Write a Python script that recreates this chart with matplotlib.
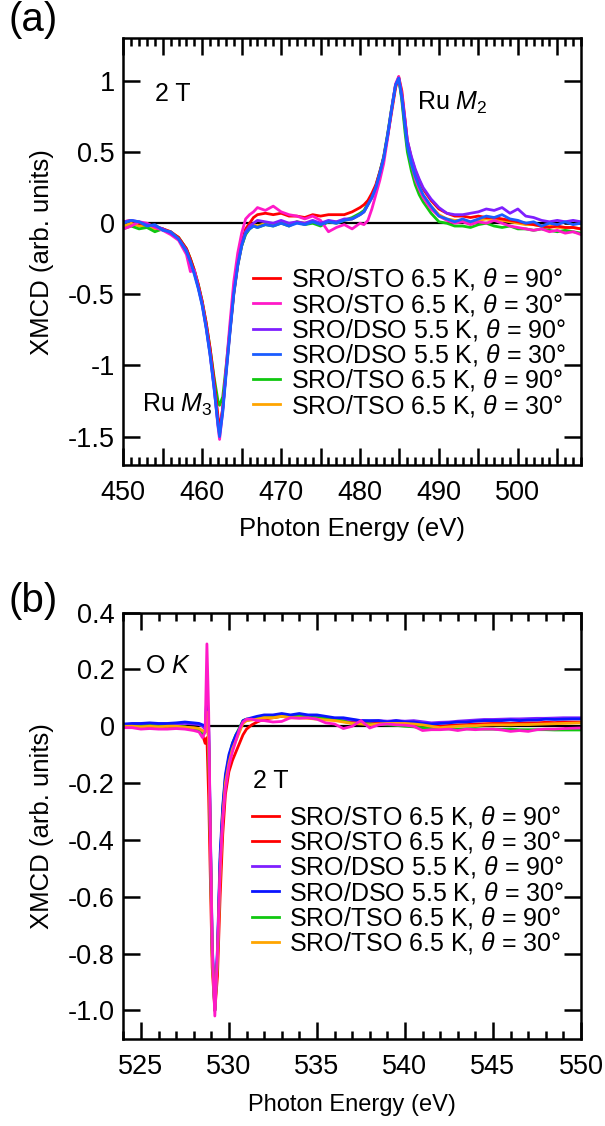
import numpy as np
import matplotlib
matplotlib.use('Agg')
import matplotlib.pyplot as plt
from matplotlib.ticker import MultipleLocator, NullLocator, FuncFormatter
from matplotlib.lines import Line2D

plt.rcParams['font.family'] = ['Liberation Sans', 'DejaVu Sans']
plt.rcParams['mathtext.fontset'] = 'custom'
plt.rcParams['mathtext.rm'] = 'Liberation Sans'
plt.rcParams['mathtext.it'] = 'Liberation Sans:italic'
plt.rcParams['axes.unicode_minus'] = False

# ---- data ----
labels = ['SRO/STO 6.5 K, $\\theta$ = 90°', 'SRO/STO 6.5 K, $\\theta$ = 30°',
          'SRO/DSO 5.5 K, $\\theta$ = 90°', 'SRO/DSO 5.5 K, $\\theta$ = 30°',
          'SRO/TSO 6.5 K, $\\theta$ = 90°', 'SRO/TSO 6.5 K, $\\theta$ = 30°']

# (a) Ru M edge
E_a = [450, 451, 452, 453, 454, 455, 456, 457, 458, 458.5,
       459, 459.5, 460, 460.5, 461, 461.5, 462, 462.2, 462.6, 463,
       463.5, 464, 464.5, 465, 465.5, 466, 466.5, 467, 468, 469,
       470, 471, 472, 473, 474, 475, 476, 477, 478, 479,
       480, 480.5, 481, 481.5, 482, 482.5, 483, 483.5, 484, 484.5,
       484.9, 485.3, 485.7, 486, 486.5, 487, 487.5, 488, 489, 490,
       491, 492, 493, 494, 495, 496, 497, 498, 499, 500,
       501, 502, 503, 504, 505, 506, 507, 508]

sto90_a = [0.01, 0.02, 0.00, -0.01, -0.02, -0.04, -0.06, -0.10, -0.18, -0.25,
           -0.33, -0.43, -0.55, -0.70, -0.88, -1.10, -1.36, -1.45, -1.30, -1.05,
           -0.76, -0.49, -0.29, -0.14, -0.04, 0.00, 0.04, 0.06, 0.07, 0.06,
           0.07, 0.05, 0.05, 0.04, 0.06, 0.05, 0.06, 0.06, 0.06, 0.08,
           0.11, 0.13, 0.16, 0.21, 0.27, 0.36, 0.46, 0.61, 0.78, 0.95,
           1.03, 0.93, 0.73, 0.58, 0.46, 0.37, 0.30, 0.24, 0.16, 0.10,
           0.07, 0.05, 0.05, 0.04, 0.05, 0.04, 0.04, 0.03, 0.02, 0.01,
           0.00, -0.01, -0.02, -0.03, -0.02, -0.03, -0.03, -0.04]
sto30_a = [-0.04, -0.02, 0.01, 0.00, -0.03, -0.05, -0.08, -0.12, -0.22, -0.34,
           -0.33, -0.45, -0.57, -0.73, -0.92, -1.15, -1.43, -1.52, -1.32, -1.04,
           -0.71, -0.41, -0.21, -0.07, 0.03, 0.06, 0.08, 0.11, 0.09, 0.12,
           0.08, 0.06, 0.05, 0.03, 0.05, 0.02, -0.06, -0.03, -0.01, -0.04,
           0.00, -0.01, 0.02, 0.10, 0.20, 0.30, 0.42, 0.60, 0.80, 0.98,
           1.03, 0.90, 0.72, 0.56, 0.42, 0.31, 0.24, 0.18, 0.10, 0.05,
           0.02, 0.00, 0.01, -0.01, 0.01, 0.00, 0.02, 0.00, -0.02, -0.03,
           -0.04, -0.05, -0.04, -0.06, -0.05, -0.07, -0.06, -0.08]
dso90_a = [0.01, 0.02, 0.01, -0.01, -0.02, -0.04, -0.07, -0.11, -0.19, -0.27,
           -0.35, -0.45, -0.57, -0.73, -0.92, -1.15, -1.41, -1.48, -1.31, -1.06,
           -0.77, -0.49, -0.29, -0.15, -0.06, -0.02, 0.00, 0.02, 0.01, 0.00,
           0.02, 0.00, 0.01, 0.00, 0.02, 0.00, 0.02, 0.01, 0.03, 0.03,
           0.06, 0.08, 0.13, 0.18, 0.25, 0.35, 0.46, 0.62, 0.80, 0.97,
           1.02, 0.90, 0.72, 0.58, 0.47, 0.38, 0.31, 0.25, 0.17, 0.11,
           0.07, 0.06, 0.06, 0.07, 0.08, 0.10, 0.09, 0.11, 0.07, 0.10,
           0.05, 0.04, 0.02, 0.01, 0.02, 0.01, 0.02, 0.01]
dso30_a = [0.00, 0.02, 0.01, -0.02, -0.01, -0.05, -0.06, -0.11, -0.20, -0.27,
           -0.36, -0.46, -0.58, -0.74, -0.93, -1.16, -1.42, -1.50, -1.33, -1.08,
           -0.78, -0.50, -0.30, -0.16, -0.07, -0.04, -0.02, -0.03, -0.01, -0.02,
           0.00, -0.02, 0.00, -0.01, 0.01, -0.01, 0.01, 0.00, 0.02, 0.03,
           0.06, 0.08, 0.13, 0.18, 0.25, 0.35, 0.46, 0.62, 0.80, 0.97,
           1.02, 0.88, 0.68, 0.54, 0.42, 0.33, 0.26, 0.20, 0.12, 0.05,
           0.03, 0.01, 0.03, 0.01, 0.03, 0.05, 0.04, 0.06, 0.03, 0.02,
           0.00, 0.01, -0.02, 0.00, -0.01, 0.01, -0.01, 0.00]
tso90_a = [-0.04, -0.02, -0.04, -0.03, -0.06, -0.04, -0.07, -0.10, -0.18, -0.25,
           -0.33, -0.43, -0.55, -0.70, -0.88, -1.08, -1.25, -1.28, -1.22, -1.02,
           -0.75, -0.48, -0.29, -0.16, -0.08, -0.04, -0.02, -0.03, -0.01, -0.02,
           0.00, -0.02, 0.01, -0.01, 0.00, -0.02, 0.01, 0.00, 0.02, 0.04,
           0.07, 0.09, 0.14, 0.19, 0.26, 0.36, 0.47, 0.63, 0.81, 0.97,
           1.02, 0.86, 0.64, 0.50, 0.37, 0.27, 0.20, 0.15, 0.07, 0.01,
           0.00, -0.02, -0.02, -0.03, -0.01, 0.00, -0.02, -0.03, -0.02, -0.04,
           -0.04, -0.05, -0.04, -0.05, -0.06, -0.05, -0.06, -0.07]
tso30_a = [-0.02, 0.00, -0.02, -0.02, -0.04, -0.04, -0.06, -0.10, -0.18, -0.25,
           -0.34, -0.44, -0.56, -0.72, -0.90, -1.12, -1.38, -1.46, -1.30, -1.06,
           -0.77, -0.50, -0.30, -0.16, -0.07, -0.03, -0.01, -0.02, 0.00, -0.01,
           0.01, -0.01, 0.01, 0.00, 0.01, -0.01, 0.01, 0.01, 0.02, 0.03,
           0.06, 0.08, 0.13, 0.18, 0.25, 0.35, 0.46, 0.62, 0.80, 0.97,
           1.02, 0.88, 0.68, 0.53, 0.41, 0.32, 0.25, 0.19, 0.12, 0.06,
           0.03, 0.02, 0.02, 0.01, 0.02, 0.03, 0.02, 0.02, 0.01, 0.00,
           -0.01, -0.01, -0.02, -0.02, -0.03, -0.03, -0.03, -0.04]

# (b) O K edge
E_b = [524, 524.5, 525, 525.5, 526, 526.5, 527, 527.5, 528, 528.3,
       528.5, 528.65, 528.75, 528.85, 528.95, 529.05, 529.2, 529.35, 529.5, 529.65,
       529.8, 530.0, 530.2, 530.4, 530.6, 530.8, 531.0, 531.3, 531.6, 532,
       532.5, 533, 533.5, 534, 534.5, 535, 535.5, 536, 536.5, 537,
       537.5, 538, 538.5, 539, 539.5, 540, 540.5, 541, 541.5, 542,
       542.5, 543, 543.5, 544, 544.5, 545, 545.5, 546, 546.5, 547,
       547.5, 548, 548.5, 549, 549.5, 550]

sto90_b = [0.00, 0.00, -0.005, 0.00, -0.005, 0.00, -0.005, -0.005, -0.01, -0.015,
           -0.03, -0.06, -0.04, -0.25, -0.55, -0.85, -1.00, -0.88, -0.60, -0.38,
           -0.24, -0.16, -0.12, -0.09, -0.06, -0.03, -0.01, 0.005, 0.015, 0.025,
           0.03, 0.035, 0.03, 0.035, 0.03, 0.03, 0.025, 0.025, 0.02, 0.015,
           0.012, 0.01, 0.012, 0.01, 0.008, 0.01, 0.008, 0.008, 0.004, 0.00,
           0.003, 0.005, 0.006, 0.008, 0.009, 0.01, 0.01, 0.01, 0.011, 0.012,
           0.012, 0.014, 0.013, 0.015, 0.015, 0.015]
sto30_b = [-0.005, -0.005, -0.01, -0.008, -0.01, -0.01, -0.008, -0.01, -0.015, -0.02,
           -0.04, -0.02, 0.29, 0.05, -0.40, -0.78, -1.02, -0.80, -0.50, -0.33,
           -0.22, -0.14, -0.09, -0.05, -0.01, 0.015, 0.025, 0.025, 0.02, 0.02,
           0.015, 0.017, 0.03, 0.028, 0.03, 0.025, 0.012, 0.008, -0.008, 0.00,
           0.02, -0.006, 0.005, 0.008, 0.005, 0.004, 0.00, -0.015, -0.012, -0.012,
           -0.01, -0.015, -0.01, -0.012, -0.01, -0.01, -0.013, -0.018, -0.015, -0.018,
           -0.012, -0.01, -0.01, -0.008, -0.007, -0.006]
dso90_b = [0.005, 0.006, 0.005, 0.008, 0.006, 0.007, 0.008, 0.01, 0.008, 0.006,
           0.00, -0.01, 0.07, -0.02, -0.40, -0.78, -1.00, -0.80, -0.48, -0.30,
           -0.19, -0.12, -0.07, -0.04, -0.015, 0.015, 0.02, 0.025, 0.03, 0.035,
           0.035, 0.04, 0.038, 0.04, 0.035, 0.035, 0.03, 0.028, 0.025, 0.022,
           0.02, 0.018, 0.02, 0.018, 0.02, 0.018, 0.02, 0.016, 0.012, 0.014,
           0.015, 0.018, 0.02, 0.022, 0.024, 0.024, 0.025, 0.026, 0.026, 0.027,
           0.028, 0.028, 0.029, 0.03, 0.03, 0.03]
dso30_b = [0.008, 0.01, 0.01, 0.012, 0.01, 0.01, 0.012, 0.015, 0.012, 0.01,
           0.005, 0.00, 0.105, 0.00, -0.38, -0.76, -1.00, -0.78, -0.45, -0.28,
           -0.17, -0.10, -0.06, -0.03, -0.01, 0.02, 0.025, 0.03, 0.035, 0.04,
           0.04, 0.045, 0.04, 0.045, 0.04, 0.04, 0.035, 0.03, 0.03, 0.025,
           0.02, 0.02, 0.02, 0.015, 0.02, 0.015, 0.015, 0.01, 0.008, 0.01,
           0.012, 0.015, 0.015, 0.018, 0.02, 0.02, 0.02, 0.022, 0.02, 0.022,
           0.022, 0.025, 0.024, 0.025, 0.026, 0.026]
tso90_b = [0.00, 0.002, 0.00, 0.003, 0.00, 0.002, 0.00, -0.002, -0.01, -0.015,
           -0.03, -0.02, 0.04, -0.05, -0.42, -0.80, -1.00, -0.82, -0.48, -0.29,
           -0.18, -0.11, -0.06, -0.03, -0.005, 0.02, 0.025, 0.025, 0.03, 0.03,
           0.032, 0.035, 0.033, 0.035, 0.032, 0.03, 0.028, 0.025, 0.018, 0.01,
           0.01, 0.008, 0.006, 0.005, 0.003, 0.00, -0.002, -0.005, -0.006, -0.008,
           -0.009, -0.01, -0.009, -0.008, -0.01, -0.01, -0.011, -0.01, -0.012, -0.012,
           -0.012, -0.012, -0.013, -0.013, -0.013, -0.013]
tso30_b = [0.00, 0.00, -0.002, 0.00, -0.002, 0.00, 0.00, -0.003, -0.005, -0.008,
           -0.015, -0.02, 0.05, -0.06, -0.42, -0.80, -1.00, -0.82, -0.52, -0.32,
           -0.20, -0.13, -0.08, -0.05, -0.02, 0.01, 0.02, 0.022, 0.025, 0.03,
           0.03, 0.035, 0.03, 0.03, 0.028, 0.025, 0.022, 0.02, 0.015, 0.01,
           0.008, 0.005, 0.008, 0.01, 0.01, 0.01, 0.008, 0.005, 0.00, -0.005,
           -0.002, 0.00, 0.002, 0.002, 0.004, 0.005, 0.005, 0.005, 0.006, 0.006,
           0.007, 0.008, 0.009, 0.01, 0.011, 0.012]

yticks_a = [-1.5, -1, -0.5, 0, 0.5, 1]
yticklabels_a = ['-1.5', '-1', '-0.5', '0', '0.5', '1']
yticks_b = [-1.0, -0.8, -0.6, -0.4, -0.2, 0, 0.2, 0.4]
yticklabels_b = ['-1.0', '-0.8', '-0.6', '-0.4', '-0.2', '0', '0.2', '0.4']

colors_a = ['#ff0000', '#ff19c8', '#7f1fff', '#1a5cff', '#10c810', '#ffa500']
colors_b = ['#ff0000', '#ff19c8', '#7f1fff', '#0a14ff', '#10c810', '#ffa500']
handle_colors_b = ['#ff0000', '#ff0000', '#7f1fff', '#0a14ff', '#10c810', '#ffa500']


def style_axes(ax):
    for sp in ax.spines.values():
        sp.set_linewidth(1.8)
    ax.tick_params(which='both', direction='in', top=True, right=True, width=1.8)
    ax.tick_params(which='major', length=12, labelsize=19.5)
    ax.tick_params(axis='x', which='major', pad=11)
    ax.tick_params(axis='y', which='major', pad=6)
    ax.tick_params(which='minor', length=6)
    ax.yaxis.set_minor_locator(NullLocator())


fig = plt.figure(figsize=(6.05, 11.26), dpi=100)

# ---------------- (a) ----------------
ax1 = fig.add_axes([0.2038, 0.587, 0.7565, 0.379])
series_a = [sto90_a, sto30_a, dso90_a, dso30_a, tso90_a, tso30_a]
draw_order_a = [5, 4, 0, 1, 2, 3]
ax1.axhline(0, color='k', lw=1.6, zorder=1)
lines_a = {}
for i in draw_order_a:
    ln, = ax1.plot(E_a, series_a[i], color=colors_a[i], lw=2.0, label=labels[i], zorder=2)
    lines_a[i] = ln
ax1.set_xlim(450, 508)
ax1.set_ylim(-1.7, 1.3)
style_axes(ax1)
ax1.xaxis.set_major_locator(MultipleLocator(5))
ax1.xaxis.set_minor_locator(MultipleLocator(1))
ax1.xaxis.set_major_formatter(FuncFormatter(lambda v, p: '%d' % v if int(round(v)) % 10 == 0 else ''))
ax1.set_yticks(yticks_a)
ax1.set_yticklabels(yticklabels_a)
ax1.set_xlabel('Photon Energy (eV)', fontsize=18.5, labelpad=8)
ax1.set_ylabel('XMCD (arb. units)', fontsize=18.5, labelpad=10)
ax1.legend([lines_a[i] for i in range(6)], labels, loc='center left',
           bbox_to_anchor=(0.2834, 0.287), frameon=False, fontsize=18,
           handlelength=1.08, handletextpad=0.42, labelspacing=-0.03,
           borderpad=0, borderaxespad=0)
ax1.text(0.069, 0.853, '2 T', transform=ax1.transAxes, fontsize=18, va='baseline')
ax1.text(0.642, 0.832, 'Ru $M_2$', transform=ax1.transAxes, fontsize=18, va='baseline')
ax1.text(0.040, 0.125, 'Ru $M_3$', transform=ax1.transAxes, fontsize=18, va='baseline')

# ---------------- (b) ----------------
ax2 = fig.add_axes([0.2038, 0.0775, 0.7565, 0.3784])
series_b = [sto90_b, sto30_b, dso90_b, dso30_b, tso90_b, tso30_b]
draw_order_b = [0, 2, 4, 3, 5, 1]
ax2.axhline(0, color='k', lw=1.6, zorder=1)
for i in draw_order_b:
    ax2.plot(E_b, series_b[i], color=colors_b[i], lw=2.0, zorder=2)
ax2.set_xlim(524, 550)
ax2.set_ylim(-1.1, 0.4)
style_axes(ax2)
ax2.xaxis.set_major_locator(MultipleLocator(5))
ax2.xaxis.set_minor_locator(MultipleLocator(1))
ax2.set_yticks(yticks_b)
ax2.set_yticklabels(yticklabels_b)
ax2.set_xlabel('Photon Energy (eV)', fontsize=17, labelpad=10)
ax2.set_ylabel('XMCD (arb. units)', fontsize=18.5, labelpad=10)
handles_b = [Line2D([], [], color=c, lw=2.0) for c in handle_colors_b]
ax2.legend(handles_b, labels, loc='center left',
           bbox_to_anchor=(0.2805, 0.3725), frameon=False, fontsize=18,
           handlelength=1.08, handletextpad=0.42, labelspacing=-0.03,
           borderpad=0, borderaxespad=0)
ax2.text(0.0474, 0.859, 'O $K$', transform=ax2.transAxes, fontsize=18, va='baseline')
ax2.text(0.2827, 0.5885, '2 T', transform=ax2.transAxes, fontsize=18, va='baseline')

fig.text(0.014, 0.999, '(a)', fontsize=29, va='top', ha='left')
fig.text(0.014, 0.483, '(b)', fontsize=29, va='top', ha='left')

plt.savefig('out.png', dpi=100)
